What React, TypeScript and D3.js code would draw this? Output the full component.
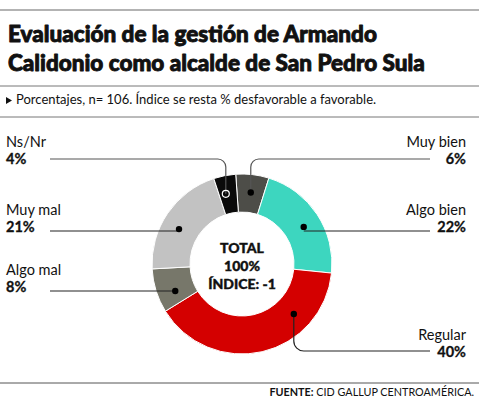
import * as d3 from 'd3';

const categories = ['Muy bien', 'Algo bien', 'Regular', 'Algo mal', 'Muy mal', 'Ns/Nr'];
const values = [6, 22, 40, 8, 21, 4];
const colors = ['#4d4d48', '#3dd6bf', '#d40000', '#77776a', '#c2c2c2', '#0a0a0a'];
const centerLines = ['TOTAL', '100%', 'ÍNDICE: -1'];
const subtitle = 'Porcentajes, n= 106. Índice se resta % desfavorable a favorable.';

const W = 479;
const H = 400;
const cx = 242;
const cy = 264;
const outerR = 90;
const innerR = 52;
const dotR = 72;
const font = 'Lato, "Open Sans", sans-serif';

// label placement per category: side, row (text baseline of the name), dot angle (deg), leader style
const layout: Record<string, { side: 'l' | 'r'; y: number; ang: number; kind: 'h' | 'top' | 'down' }> = {
  'Muy bien': { side: 'r', y: 147, ang: 7, kind: 'top' },
  'Algo bien': { side: 'r', y: 215, ang: 59, kind: 'h' },
  Regular: { side: 'r', y: 340, ang: 134, kind: 'down' },
  'Algo mal': { side: 'l', y: 275, ang: 248, kind: 'h' },
  'Muy mal': { side: 'l', y: 215, ang: 299, kind: 'h' },
  'Ns/Nr': { side: 'l', y: 147, ang: 347, kind: 'top' },
};

export default function App() {
  const pie = d3.pie<number>().sort(null).value((d) => d).startAngle(-0.07).endAngle(-0.07 + 2 * Math.PI);
  const arcs = pie(values);
  const arc = d3.arc<d3.PieArcDatum<number>>().innerRadius(innerR).outerRadius(outerR);
  const toRad = d3.scaleLinear().domain([0, 360]).range([0, 2 * Math.PI]);

  const leftX = 6;
  const rightX = 466;
  const lineL = 50;
  const lineR = 430;

  return (
    <svg width={W} height={H} style={{ position: 'absolute', left: 0, top: 0, background: '#fff' }}>
      <line x1={0} x2={W} y1={10} y2={10} stroke="#9a9a9a" strokeWidth={1.5} />
      <g fontFamily={font} fontWeight={900} fontSize={22.5} fill="#111" stroke="#111" strokeWidth={0.9} strokeLinejoin="round">
        <text x={8} y={42}>Evaluación de la gestión de Armando</text>
        <text x={8} y={71}>Calidonio como alcalde de San Pedro Sula</text>
      </g>
      <line x1={0} x2={W} y1={86} y2={86} stroke="#777" strokeWidth={1} />
      <path d="M6,97 L12,100.5 L6,104 Z" fill="#111" />
      <text x={16} y={104} fontFamily={font} fontSize={13} fill="#111">
        {subtitle}
      </text>
      <line x1={0} x2={W} y1={117} y2={117} stroke="#777" strokeWidth={1} />

      <g transform={`translate(${cx},${cy})`}>
        {arcs.map((a, i) => (
          <path key={categories[i]} d={arc(a) || ''} fill={colors[i]} stroke="#fff" strokeWidth={1} />
        ))}
        {centerLines.map((t, i) => (
          <text key={t} x={0} y={-11 + i * 18} textAnchor="middle" fontFamily={font} fontWeight={900} fontSize={14} fill="#111" stroke="#111" strokeWidth={0.4}>
            {t}
          </text>
        ))}
      </g>

      {categories.map((c, i) => {
        const L = layout[c];
        const [px, py] = d3.pointRadial(toRad(L.ang), dotR);
        const dx = cx + px;
        const dy = cy + py;
        const lineY = L.y + 16;
        const p = d3.path();
        if (L.kind === 'h') {
          p.moveTo(L.side === 'l' ? lineL : lineR, lineY);
          p.lineTo(dx, lineY);
        } else if (L.kind === 'top') {
          p.moveTo(L.side === 'l' ? lineL : lineR, lineY - 4);
          p.arcTo(dx, lineY - 4, dx, dy, 8);
          p.lineTo(dx, dy);
        } else {
          p.moveTo(dx, dy);
          p.arcTo(dx, lineY - 5, lineR, lineY - 5, 10);
          p.lineTo(lineR, lineY - 5);
        }
        const tx = L.side === 'l' ? leftX : rightX;
        const anchor = L.side === 'l' ? 'start' : 'end';
        const hollow = c === 'Ns/Nr';
        return (
          <g key={c}>
            <path d={p.toString()} fill="none" stroke={hollow || c === 'Muy bien' ? '#555' : '#222'} strokeWidth={1.2} />
            {hollow ? (
              <circle cx={dx} cy={dy} r={3.5} fill="none" stroke="#fff" strokeWidth={1.2} />
            ) : (
              <circle cx={dx} cy={dy} r={3.2} fill="#000" />
            )}
            <text x={tx} y={L.y} textAnchor={anchor} fontFamily={font} fontSize={14.5} fill="#111">
              {c}
            </text>
            <text x={tx} y={L.y + 16.5} textAnchor={anchor} fontFamily={font} fontWeight={700} fontSize={14.5} fill="#111" stroke="#111" strokeWidth={0.3}>
              {`${values[i]}%`}
            </text>
          </g>
        );
      })}

      <line x1={0} x2={W} y1={383} y2={383} stroke="#555" strokeWidth={1} />
      <text x={474} y={396} textAnchor="end" fontFamily={font} fontSize={10.8} fill="#111">
        <tspan fontWeight={700}>FUENTE:</tspan> CID GALLUP CENTROAMÉRICA.
      </text>
    </svg>
  );
}
